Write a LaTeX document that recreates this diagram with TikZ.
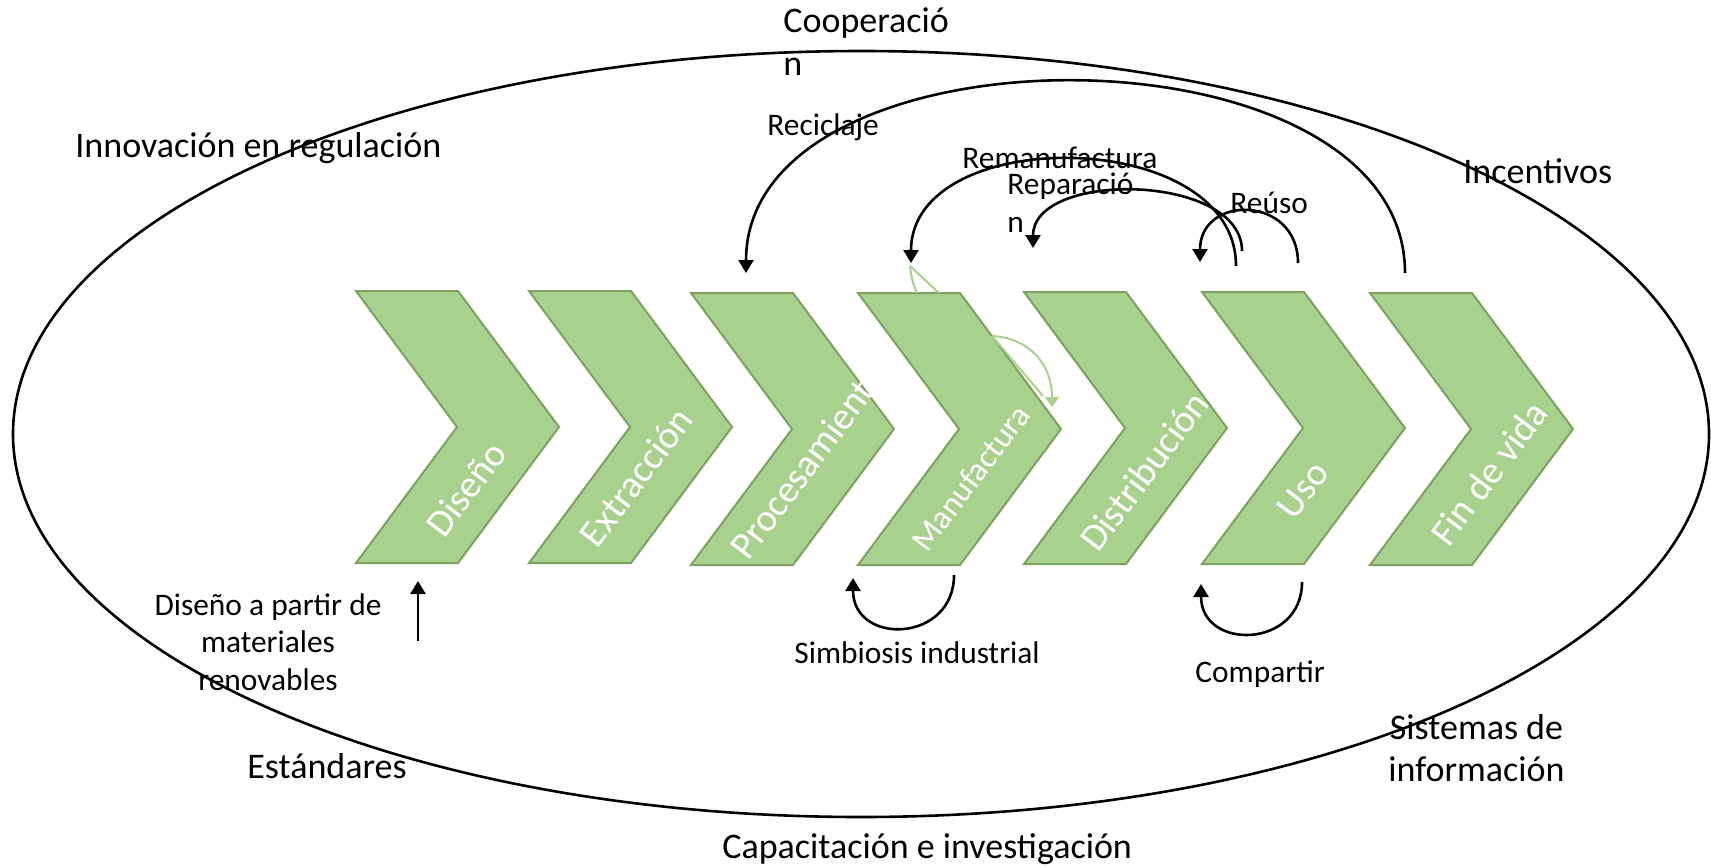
\documentclass[tikz,border=0pt]{standalone}
\usepackage{fontspec}
\setmainfont{Carlito}
\usetikzlibrary{arrows.meta}
\definecolor{chevfill}{RGB}{169,209,142}
\definecolor{chevline}{RGB}{125,162,96}

\begin{document}
\begin{tikzpicture}[x=0.5pt,y=-0.5pt]

\tikzset{chevron/.style = {draw=chevline, fill=chevfill, line width=1pt}}
\tikzset{chevlabel/.style = {text=white, rotate=53, inner sep=0pt, font=\fontsize{19.2}{23}\selectfont}}
\tikzset{biglabel/.style = {inner sep=0pt, anchor=base west, font=\fontsize{18}{21}\selectfont}}
\tikzset{smalllabel/.style = {inner sep=0pt, anchor=base west, font=\fontsize{15.7}{18.75}\selectfont}}
\tikzset{cycarrow/.style = {->, > = {Triangle[length=6.5pt,width=7.5pt]}, line width=1.3pt}}
\tikzset{ghost/.style = {draw=chevfill, line width=1pt}}

\useasboundingbox (0,0) rectangle (1711,867);

\draw[line width=1.3pt] (861,434) ellipse [x radius=424pt, y radius=191.5pt];

\draw[chevron] (356,291) -- ++(102,0) -- ++(101,136) -- ++(-101,136) -- ++(-102,0) -- ++(101,-136) -- cycle;
\node[chevlabel] (dis) at (466,489) {Diseño};
\draw[chevron] (529,291) -- ++(102,0) -- ++(101,136) -- ++(-101,136) -- ++(-102,0) -- ++(101,-136) -- cycle;
\node[chevlabel] (ext) at (636,477) {Extracción};
\draw[chevron] (691,293) -- ++(102,0) -- ++(101,136) -- ++(-101,136) -- ++(-102,0) -- ++(101,-136) -- cycle;
\node[chevlabel] (pro) at (808,461) {Procesamiento};
\draw[chevron] (858,293) -- ++(102,0) -- ++(101,136) -- ++(-101,136) -- ++(-102,0) -- ++(101,-136) -- cycle;
\node[chevlabel, font=\fontsize{16.5}{20}\selectfont] (man) at (971,478) {Manufactura};
\draw[chevron] (1024,292) -- ++(102,0) -- ++(101,136) -- ++(-101,136) -- ++(-102,0) -- ++(101,-136) -- cycle;
\node[chevlabel] (dist) at (1144,471) {Distribución};
\draw[chevron] (1202,292) -- ++(102,0) -- ++(101,136) -- ++(-101,136) -- ++(-102,0) -- ++(101,-136) -- cycle;
\node[chevlabel] (uso) at (1303,490) {Uso};
\draw[chevron] (1370,293) -- ++(102,0) -- ++(101,136) -- ++(-101,136) -- ++(-102,0) -- ++(101,-136) -- cycle;
\node[chevlabel] (fin) at (1489,473) {Fin de vida};

\coordinate (gh1) at (910,266);
\coordinate (gh2) at (992,336);
\draw[ghost] (gh1) .. controls (912,281) .. (917,293);
\draw[ghost] (gh1) -- (939,293);
\draw[ghost, -{Triangle[length=5pt,width=7pt]}] (gh2) .. controls (1030,338) and (1052,365) .. (1052,407);
\draw[ghost] (gh2) -- (1043,396);

\node[biglabel, align=left] (coop) at (783,75) {Cooperació\\n};
\node[biglabel] (innov) at (75,157) {Innovación en regulación};
\node[biglabel] (incent) at (1463,183) {Incentivos};
\node[biglabel] (estand) at (247,778) {Estándares};
\node[biglabel, align=center] (sist) at (1388,781) {Sistemas de\\información};
\node[biglabel] (capac) at (722,858) {Capacitación e investigación};

\node[smalllabel] (recic) at (767,135) {Reciclaje};
\node[smalllabel] (reman) at (962,168) {Remanufactura};
\node[smalllabel, align=left] (repar) at (1007,232) {Reparació\\n};
\node[smalllabel] (reuso) at (1230,213) {Reúso};
\node[smalllabel, align=center, anchor=base] (disren) at (268,690) {Diseño a partir de\\materiales\\renovables};
\node[smalllabel] (simb) at (794,663) {Simbiosis industrial};
\node[smalllabel] (compart) at (1195,682) {Compartir};

\coordinate (rec-a) at (1405,273);
\coordinate (rec-b) at (746,273);
\coordinate (rem-a) at (1236,266);
\coordinate (rem-b) at (911,263);
\coordinate (rep-a) at (1242,251);
\coordinate (rep-b) at (1033,248);
\coordinate (reu-a) at (1298,263);
\coordinate (reu-b) at (1200,262);
\coordinate (sim-a) at (954,575);
\coordinate (sim-b) at (853,578);
\coordinate (com-a) at (1302,582);
\coordinate (com-b) at (1201,584);
\coordinate (ren-a) at (418,641);
\coordinate (ren-b) at (418,581);

\draw[cycarrow] (rec-a) .. controls +(0,-255) and +(0,-255) .. (rec-b);
\draw[cycarrow] (rem-a) .. controls +(0,-140) and +(0,-140) .. (rem-b);
\draw[cycarrow] (rep-a) .. controls +(0,-78) and +(0,-78) .. (rep-b);
\draw[cycarrow] (reu-a) .. controls +(0,-68) and +(0,-68) .. (reu-b);
\draw[cycarrow] (sim-a) .. controls +(0,68) and +(0,68) .. (sim-b);
\draw[cycarrow] (com-a) .. controls +(0,67) and +(0,67) .. (com-b);
\draw[cycarrow] (ren-a) -- (ren-b);

\end{tikzpicture}
\end{document}
